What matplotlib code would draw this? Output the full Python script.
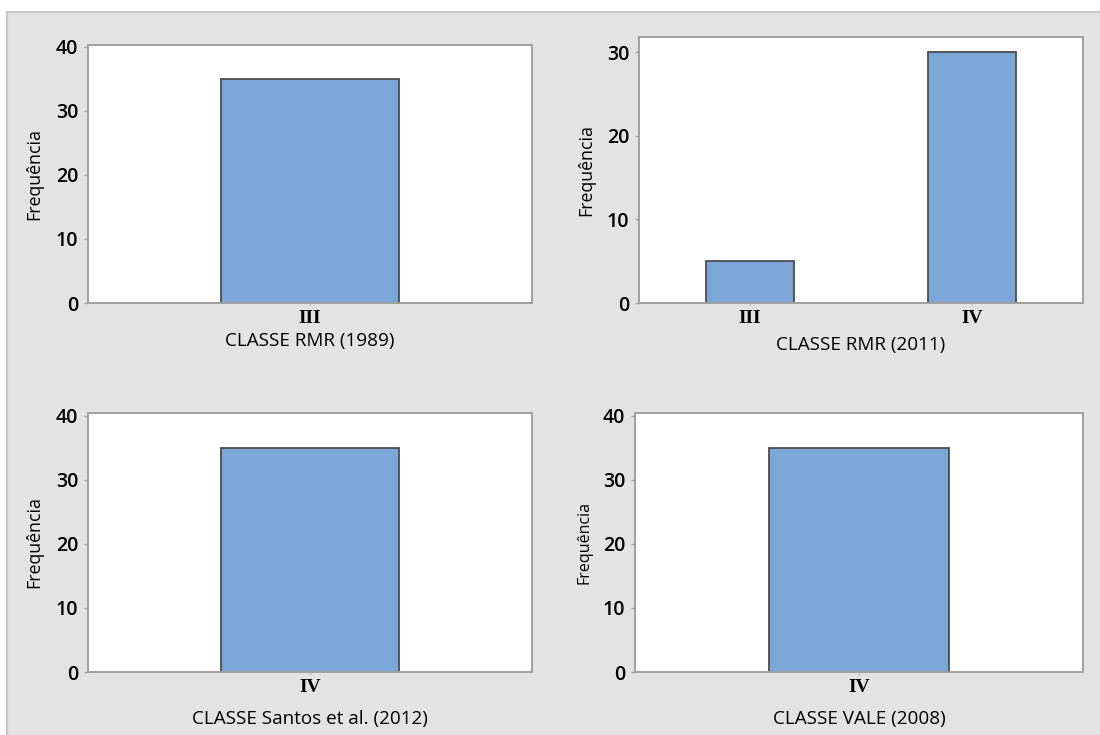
import matplotlib
matplotlib.use("Agg")
import matplotlib.pyplot as plt
from matplotlib.patches import Rectangle

plt.rcParams['font.family'] = ['Open Sans', 'DejaVu Sans']
plt.rcParams['font.weight'] = 'semibold'

# class counts for each classification system
rmr1989_classes = ["III"]
rmr1989_counts = [35]
rmr2011_classes = ["III", "IV"]
rmr2011_counts = [5, 30]
santos_classes = ["IV"]
santos_counts = [35]
vale_classes = ["IV"]
vale_counts = [35]

W, H = 1100, 735
fig = plt.figure(figsize=(W / 100, H / 100), dpi=100)
fig.patch.set_facecolor("white")

# gray backdrop behind the four charts
backdrop = Rectangle((7 / W, -0.1), 1.2, 1.1 - 12 / H, transform=fig.transFigure,
                     facecolor="#e3e3e3", edgecolor="#c8c8c8", lw=1.5, zorder=-10)
fig.add_artist(backdrop)

BAR = "#7ba7d8"
EDGE = "#4d4d4d"
SPINE = "#a0a0a0"


def panel(box, classes, counts, ytop, yticks, xlabel, xlab_y, ylab_x, ylab_size=12.8):
    left, right, top, bottom = box
    ax = fig.add_axes([left / W, 1 - bottom / H, (right - left) / W, (bottom - top) / H])
    ax.set_facecolor("white")
    x = list(range(len(classes)))
    ax.bar(x, counts, width=0.4, color=BAR, edgecolor=EDGE, linewidth=1.3, zorder=2)
    ax.set_xlim(-0.5, len(classes) - 0.5)
    ax.set_ylim(0, ytop)
    ax.set_yticks(yticks)
    ax.set_xticks(x)
    ax.set_xticklabels(classes, fontfamily="Liberation Serif", fontweight="bold", fontsize=14)
    for s in ax.spines.values():
        s.set_color(SPINE)
        s.set_linewidth(1.4)
    ax.tick_params(axis="y", colors=SPINE, labelcolor="black", labelsize=14, length=3, width=1, pad=4)
    ax.tick_params(axis="x", colors="#c0c0c0", labelcolor="black", length=2, width=1, pad=3)
    ax.set_xlabel(xlabel, fontsize=13.6)
    ax.xaxis.set_label_coords(0.5, -(xlab_y - bottom) / (bottom - top))
    ax.xaxis.label.set_va("center")
    ax.set_ylabel("Frequência", fontsize=ylab_size)
    ax.yaxis.set_label_coords((ylab_x - left) / (right - left), 0.5)
    ax.yaxis.label.set_va("center")
    return ax


panel((88, 532, 45, 303), rmr1989_classes, rmr1989_counts, 40.3, [0, 10, 20, 30, 40],
      "CLASSE RMR (1989)", 341, 34)
panel((639, 1083, 37, 303), rmr2011_classes, rmr2011_counts, 31.8, [0, 10, 20, 30],
      "CLASSE RMR (2011)", 345, 586)
panel((88, 532, 413, 672), santos_classes, santos_counts, 40.45, [0, 10, 20, 30, 40],
      "CLASSE Santos et al. (2012)", 719, 34)
panel((635, 1083, 413, 672), vale_classes, vale_counts, 40.45, [0, 10, 20, 30, 40],
      "CLASSE VALE (2008)", 719, 585, ylab_size=11.5)

fig.savefig("out.png", dpi=100)
